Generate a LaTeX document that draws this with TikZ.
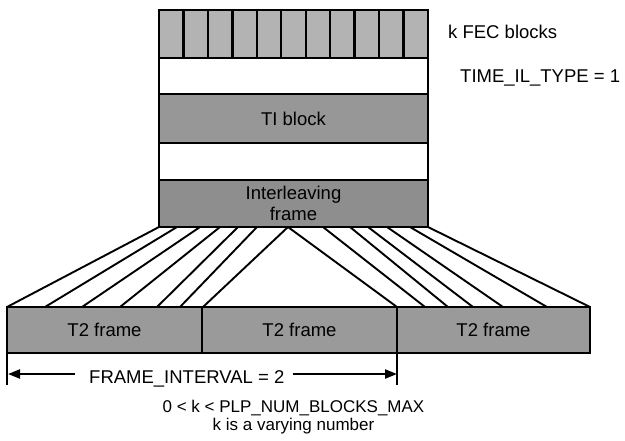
\documentclass[tikz,border=0pt]{standalone}
\usepackage{fontspec}
\setmainfont{Liberation Sans}
\usetikzlibrary{arrows.meta}
\definecolor{fecgray}{HTML}{B3B3B3}
\definecolor{tigray}{HTML}{979797}
\definecolor{ilgray}{HTML}{8E8E8E}
\definecolor{tgray}{HTML}{9A9A9A}
\begin{document}
\begin{tikzpicture}[x=1pt,y=-1pt,
  lbl/.style={font=\fontsize{18.5}{21}\selectfont},
  small/.style={font=\fontsize{17}{18}\selectfont},
  blk/.style={draw=black, line width=2.4pt, inner sep=0pt, outer sep=0pt, anchor=north west, lbl},
  fan/.style={line width=1.9pt},
  arr/.style={line width=2.2pt, -{Triangle[length=12pt,width=9pt]}},
  tick/.style={line width=2.4pt},
]
\useasboundingbox (0,0) rectangle (625,440);

% fan lines
\foreach \t/\b [count=\i] in {159/7,177/45,200/82,220/120,238/157,257/180,288/203}{
  \coordinate (lt\i) at (\t,227);
  \coordinate (lb\i) at (\b,307);
  \draw[fan] (lt\i) -- (lb\i);
}
\foreach \t/\b [count=\i] in {288/397,323/425,350/448,368/473,387/503,410/547,428/590}{
  \coordinate (rt\i) at (\t,227);
  \coordinate (rb\i) at (\b,307);
  \draw[fan] (rt\i) -- (rb\i);
}

% stack
\foreach \i in {0,...,10}{
  \node[blk, fill=fecgray, minimum width=24.4545pt, minimum height=48pt] (fec\i) at ({159+24.4545*\i},10) {};
}
\node[blk, fill=white, minimum width=269pt, minimum height=36pt] (gap1) at (159,58) {};
\node[blk, fill=tigray, minimum width=269pt, minimum height=49pt] (ti) at (159,94) {TI block};
\node[blk, fill=white, minimum width=269pt, minimum height=37pt] (gap2) at (159,143) {};
\node[blk, fill=ilgray, minimum width=269pt, minimum height=47pt, align=center] (il) at (159,180) {Interleaving\\frame};

% T2 frames
\node[blk, fill=tgray, minimum width=195pt, minimum height=46pt] (t2a) at (7,307) {T2 frame};
\node[blk, fill=tgray, minimum width=195pt, minimum height=46pt] (t2b) at (202,307) {T2 frame};
\node[blk, fill=tgray, minimum width=193pt, minimum height=46pt] (t2c) at (397,307) {T2 frame};

% labels
\node[lbl, anchor=base west, inner sep=0pt] (kfec) at (448,38) {k FEC blocks};
\node[lbl, anchor=base west, inner sep=0pt] (til) at (460,82) {TIME\_IL\_TYPE = 1};

% frame interval
\coordinate (al) at (8,374);
\coordinate (ar) at (397,374);
\coordinate (tl) at (8,385);
\node[lbl, anchor=base west, inner sep=0pt] (fi) at (89,383) {FRAME\_INTERVAL = 2};
\draw[tick] (t2a.south west) -- (t2a.south west |- tl);
\draw[tick] (t2b.south east) -- (t2b.south east |- tl);
\draw[arr] (al -| fi.west) ++(-14,0) -- (al);
\draw[arr] (ar -| fi.east) ++(8,0) -- (ar);

\node[small, align=center, inner sep=0pt] (note) at (293.5,417.5) {0 < k < PLP\_NUM\_BLOCKS\_MAX\\k is a varying number};
\end{tikzpicture}
\end{document}
